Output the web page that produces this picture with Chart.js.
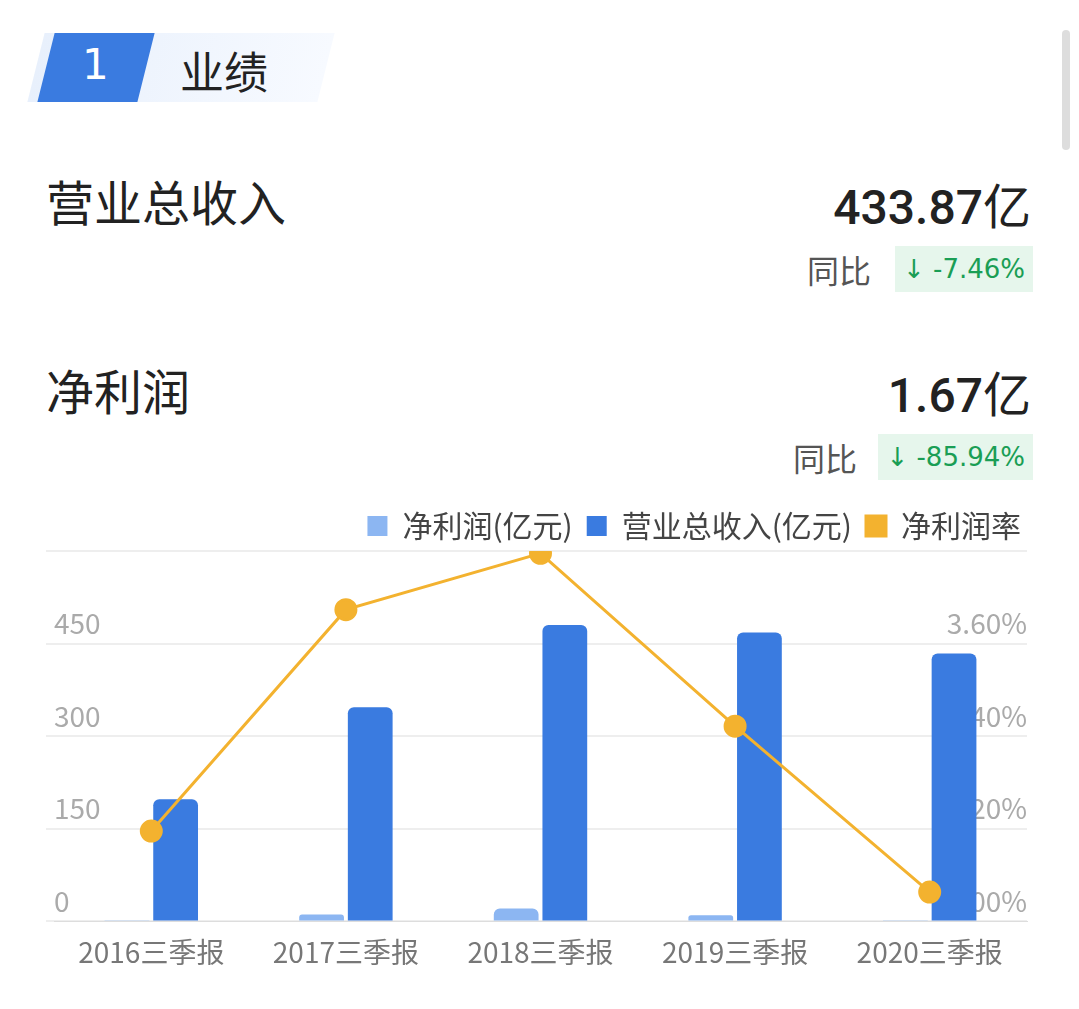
<!DOCTYPE html>
<html><head><meta charset="utf-8">
<script src="https://cdn.jsdelivr.net/npm/chart.js@4"></script>
<style>
body{margin:0;width:1079px;height:1009px;background:#fff;font-family:"Noto Sans CJK SC","Noto Sans",sans-serif;position:relative;overflow:hidden;color:#222}
.abs{position:absolute}
.num{font-family:"Roboto","DejaVu Sans",sans-serif;font-weight:500}
.tag{background:#e6f6ec;color:#1a9e55;font-size:26px;height:46px;line-height:46px;padding:0 8px;font-family:"DejaVu Sans",sans-serif}
</style></head><body>
<div class="abs" style="left:36px;top:33px;width:290px;height:69px;background:linear-gradient(90deg,#e8f0fc,#f7faff);transform:skewX(-14deg)"></div>
<div class="abs" style="left:46px;top:33px;width:100px;height:69px;background:#3a7be0;transform:skewX(-14deg)"></div>
<div class="abs" style="left:82px;top:40px;font-size:42px;color:#fff;font-family:'DejaVu Sans'">1</div>
<div class="abs" style="left:180px;top:38px;font-size:44px;color:#222">业绩</div>
<div class="abs" style="left:1062px;top:30px;width:8px;height:120px;background:#ddd;border-radius:4px"></div>
<div class="abs" style="left:46px;top:165px;font-size:48px">营业总收入</div>
<div class="abs num" style="right:48px;top:168px;font-size:48px">433.87<span style="font-weight:normal;font-family:'Noto Sans CJK SC'">亿</span></div>
<div class="abs" style="right:208px;top:246px;font-size:32px;color:#555">同比</div>
<div class="abs tag" style="right:46px;top:246px">↓ -7.46%</div>
<div class="abs" style="left:46px;top:354px;font-size:48px">净利润</div>
<div class="abs num" style="right:48px;top:356px;font-size:48px">1.67<span style="font-weight:normal;font-family:'Noto Sans CJK SC'">亿</span></div>
<div class="abs" style="right:222px;top:434px;font-size:32px;color:#555">同比</div>
<div class="abs tag" style="right:46px;top:434px">↓ -85.94%</div>
<div class="abs" style="left:0;top:497px;width:1079px;height:478px"><canvas id="c"></canvas></div>
<script>
const categories = ['2016三季报','2017三季报','2018三季报','2019三季报','2020三季报'];
const netProfit = [2, 11, 21, 10, 1.67];
const revenue = [198, 347, 480, 468, 433.87];
const netMargin = [1.17, 4.04, 4.77, 2.53, 0.38];
const leftTicks = [0, 150, 300, 450, 600];
const rightTicks = [0, 1.2, 2.4, 3.6, 4.8];

Chart.defaults.font.family = '"Noto Sans CJK SC","Noto Sans",sans-serif';
new Chart(document.getElementById('c'), {
    type: 'bar',
    data: {
        labels: categories,
        datasets: [
            {label: '净利润(亿元)', data: netProfit, backgroundColor: '#8cb6f2', borderRadius: {topLeft: 6, topRight: 6}, yAxisID: 'y', order: 2},
            {label: '营业总收入(亿元)', data: revenue, backgroundColor: '#3a7be0', borderRadius: {topLeft: 6, topRight: 6}, yAxisID: 'y', order: 2},
            {type: 'line', label: '净利润率', data: netMargin, borderColor: '#f3b22f', backgroundColor: '#f3b22f', borderWidth: 3, pointRadius: 10, pointBackgroundColor: '#f3b22f', yAxisID: 'y1', order: 1}
        ]
    },
    options: {
        responsive: true, maintainAspectRatio: false, animation: false,
        layout: {padding: {left: 46, right: 44, top: 0, bottom: 0}},
        categoryPercentage: 0.5, barPercentage: 0.92,
        plugins: {
            tooltip: {enabled: false},
            legend: {align: 'end', labels: {font: {size: 30}, color: '#444', boxWidth: 20, boxHeight: 20, padding: 14,
                sort: (a, b) => a.datasetIndex - b.datasetIndex}}
        },
        scales: {
            x: {grid: {display: false}, border: {color: '#ddd'}, ticks: {font: {size: 28}, color: '#777', padding: 6}},
            y: {min: 0, max: 600, afterBuildTicks: a => { a.ticks = leftTicks.map(v => ({value: v})); },
                grid: {color: '#eee', lineWidth: 2}, border: {display: false},
                ticks: {mirror: true, padding: 0, labelOffset: -20, font: {size: 28}, color: '#aaa', callback: v => v === 600 ? '' : v}},
            y1: {position: 'right', z: 1, min: 0, max: 4.8, afterBuildTicks: a => { a.ticks = rightTicks.map(v => ({value: v})); },
                grid: {display: false}, border: {display: false},
                ticks: {mirror: true, padding: 0, labelOffset: -20, font: {size: 28}, color: '#aaa', callback: v => v === 4.8 ? '' : v.toFixed(2) + '%'}}
        }
    }
});
</script>
</body></html>
